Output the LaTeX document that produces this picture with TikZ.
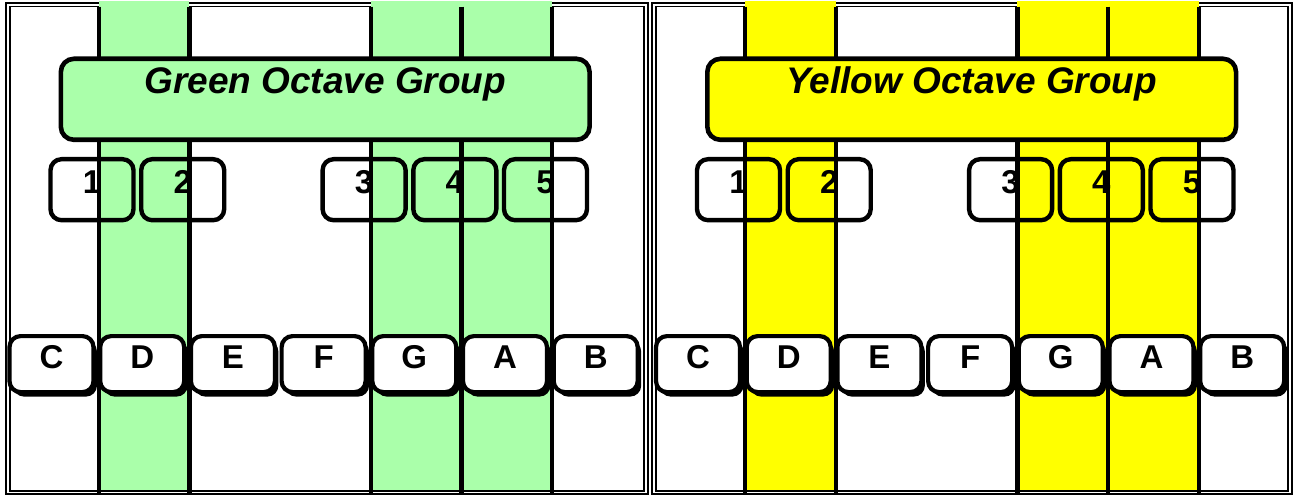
\documentclass[tikz,border=0pt]{standalone}
\usepackage{fontspec}
\setmainfont{Liberation Sans}
\usetikzlibrary{shadows}
\definecolor{octgreen}{RGB}{170,255,170}
\definecolor{octyellow}{RGB}{255,255,0}
\begin{document}
\begin{tikzpicture} [
                x=1pt, y=-1pt,
                frame/.style = {draw,line width=1.8pt},
                stripe/.style = {draw,line width=4.4pt},
                key/.style = {draw,fill=white,line width=4.2pt,rounded corners=11pt,
                    inner sep=0pt,minimum width=84pt,text height=32pt,text depth=24pt,
                    font=\fontsize{33}{33}\selectfont\bfseries,
                    drop shadow={shadow xshift=3.5pt,shadow yshift=-4.5pt,fill=black,opacity=1}},
                finger/.style = {draw,line width=4.4pt,rounded corners=11pt,
                    inner sep=0pt,minimum width=83pt,text height=34.7pt,text depth=26.3pt,
                    font=\fontsize{33}{33}\selectfont\bfseries},
                group/.style = {draw,line width=4.6pt,rounded corners=13pt,
                    inner sep=0pt,minimum width=528.7pt,text height=35.2pt,text depth=45.8pt,
                    font=\fontsize{37}{37}\selectfont\bfseries\itshape},
            ]
            \useasboundingbox (0,0) rectangle (1296,497);
            \fill[white] (0,0) rectangle (1296,497);
            % One panel per octave group
            \foreach \ox/\col/\grp/\fl/\fr in {
                    0/octgreen/Green/5.8/647.7,
                    646.5/octyellow/Yellow/651.7/1291.7} {
                % double frame
                \draw[frame] (\fl,3.3) rectangle (\fr,493.8);
                \draw[frame] (\fl+4.1,6.5) rectangle (\fr-3.4,490.8);
                % coloured stripes behind D, G and A
                \foreach \k in {1,4,5}
                    \fill[\col] (\ox+8+\k*90.7,1.5) rectangle (\ox+8+\k*90.7+90.7,490);
                % finger boxes
                \foreach \k/\num in {1/1,2/2,4/3,5/4,6/5}
                    \node[finger,anchor=north] (fing-\grp-\num) at (\ox+8+\k*90.7-6.7,157) {\num};
                % stripe borders
                \foreach \k in {1,2,4,5,6}
                    \draw[stripe] (\ox+8+\k*90.7,6.7) -- (\ox+8+\k*90.7,493);
                % group box
                \node[group,fill=\col,anchor=north] (grp-\grp) at (\ox+325.2,56.5) {\grp{} Octave Group};
                % the seven keys
                \foreach \i/\name in {0/C,1/D,2/E,3/F,4/G,5/A,6/B}
                    \node[key,anchor=north] (key-\grp-\name) at (\ox+9.5+\i*90.7+42,334) {\name};
            }
        \end{tikzpicture}
\end{document}
